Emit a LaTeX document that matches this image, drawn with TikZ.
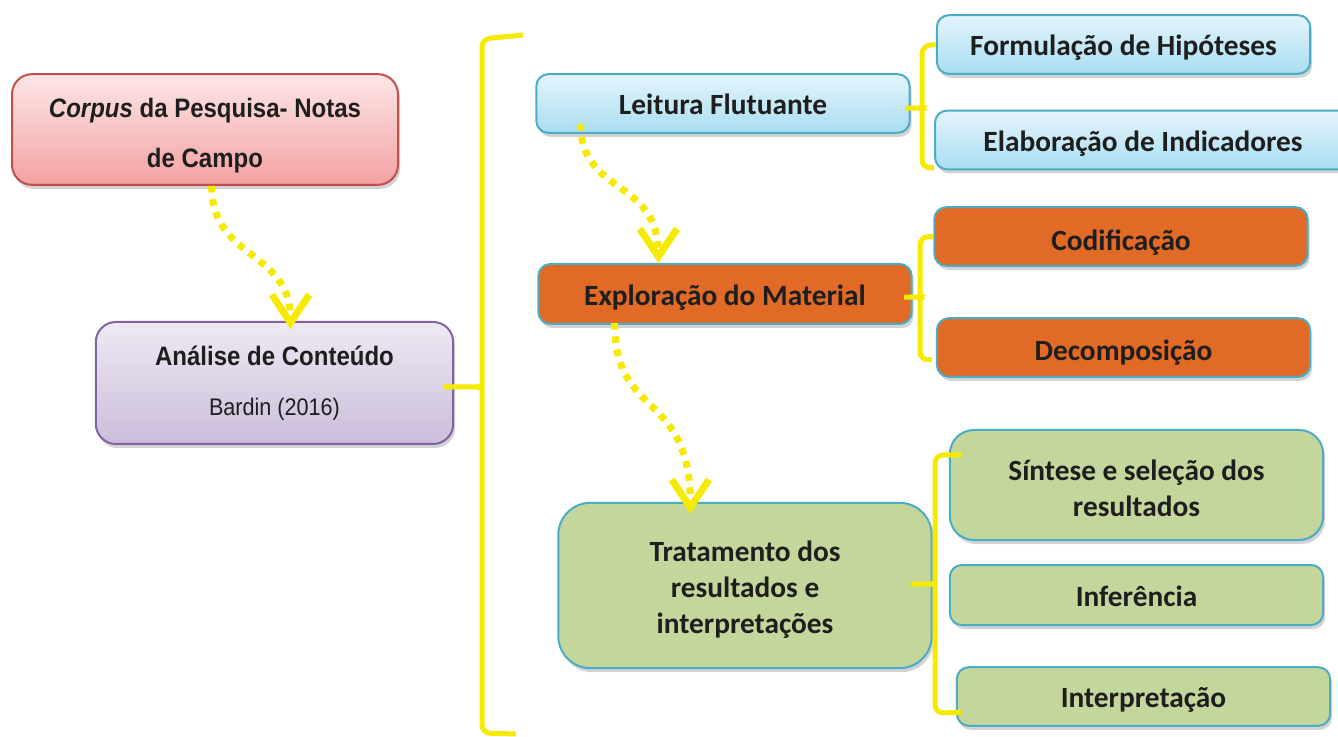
\documentclass[tikz,border=0pt]{standalone}
\usepackage{fontspec}
\setmainfont{Carlito}
\newfontfamily\arialfont[FakeStretch=0.9]{Liberation Sans}
\usetikzlibrary{arrows.meta,shadows}

\definecolor{boxline}{HTML}{4BACC6}
\definecolor{bluetop}{HTML}{E4F5FC}
\definecolor{bluebot}{HTML}{A9DDF1}
\definecolor{orangefill}{HTML}{E06A26}
\definecolor{greenfill}{HTML}{C3D69B}
\definecolor{redtop}{HTML}{FDE6E6}
\definecolor{redbot}{HTML}{F3A2A2}
\definecolor{redline}{HTML}{C0504D}
\definecolor{purpletop}{HTML}{EEE9F4}
\definecolor{purplebot}{HTML}{CBBEDA}
\definecolor{purpleline}{HTML}{8064A2}
\definecolor{braceyellow}{HTML}{F5EA00}
\definecolor{textdark}{HTML}{1E1E1E}

\tikzset{
	stagebox/.style={draw=boxline, line width=1.5pt, rounded corners=9pt,
		minimum width=280pt, minimum height=44pt, align=center, text=textdark,
		font=\fontsize{22}{27}\selectfont\bfseries,
		drop shadow={opacity=0.35, shadow xshift=1.5pt, shadow yshift=-3pt}},
	oneline/.style={text height=19.5pt, text depth=2.3pt},
	bluebox/.style={stagebox, oneline, top color=bluetop, bottom color=bluebot},
	orangebox/.style={stagebox, oneline, fill=orangefill},
	greenbox/.style={stagebox, fill=greenfill},
	brace/.style={draw=braceyellow, line width=3.75pt, rounded corners=6pt},
	flowarrow/.style={draw=braceyellow, line width=5.25pt, dash pattern=on 5pt off 5pt,
		-{Straight Barb[length=21pt,width=28pt]}},
}

\begin{document}
\begin{tikzpicture}[x=0.75pt, y=-0.75pt]
	\useasboundingbox (0,0) rectangle (1338,737);

	% Left column
	\node[stagebox, draw=redline, top color=redtop, bottom color=redbot, rounded corners=15pt,
		minimum width=289.5pt, minimum height=83pt,
		font=\arialfont\fontsize{20}{37.5}\selectfont\bfseries]
		(corpus) at (205,129.5) {\rule{0pt}{23.5pt}{\itshape Corpus} da Pesquisa- Notas\\de Campo};
	\node[stagebox, draw=purpleline, top color=purpletop, bottom color=purplebot, rounded corners=15pt,
		minimum width=268pt, minimum height=91.5pt, font=\arialfont]
		(analise) at (274.5,383) {{\fontsize{20}{24}\selectfont\bfseries Análise de Conteúdo}\\[23pt]
		{\fontsize{18}{22}\selectfont Bardin (2016)}};

	% Middle column
	\node[bluebox] (leitura) at (723,103.5) {Leitura Flutuante};
	\node[orangebox, minimum height=45pt] (explor) at (725,294) {Exploração do Material};
	\node[greenbox, rounded corners=24pt, minimum height=124pt] (trat) at (745,585.5)
		{\rule{0pt}{22pt}Tratamento dos\\resultados e\\interpretações};

	% Right column
	\node[bluebox] (formul) at (1123.5,44.5) {Formulação de Hipóteses};
	\node[bluebox, minimum width=312pt] (elab) at (1143,140) {Elaboração de Indicadores};
	\node[orangebox, text height=23pt] (codif) at (1121,236.5) {Codificação};
	\node[orangebox, text height=21.5pt] (decomp) at (1123.5,347.5) {Decomposição};
	\node[greenbox, rounded corners=18pt, minimum height=82.5pt] (sintese) at (1136.5,485)
		{\rule{0pt}{20pt}Síntese e seleção dos\\resultados};
	\node[greenbox, oneline, minimum height=45pt] (infer) at (1136.5,595) {Inferência};
	\node[greenbox, oneline] (interp) at (1143.5,696.5) {Interpretação};

	% Braces
	\coordinate (btop) at (523,35);
	\coordinate (bbot) at (516,734);
	\draw[brace] (btop) -- (482,39) -- (482,377)
		.. controls (482,385) and (479,387) .. (468,387) -- ([xshift=-12pt,yshift=-3pt]analise.east)
		-- (468,387) .. controls (479,387) and (482,389) .. (482,397) -- (482,733) -- (bbot);
	\draw[brace] (formul.west) -- (922,46) -- (922,100)
		.. controls (922,106) and (920,108) .. (914,108) -- ([xshift=-2pt,yshift=-3.5pt]leitura.east)
		-- (914,108) .. controls (920,108) and (922,110) .. (922,116) -- (922,168) -- ([yshift=2pt]elab.south west);
	\draw[brace] (codif.west) -- (920,237) -- (920,289)
		.. controls (920,295) and (918,297) .. (912,297) -- ([xshift=-6pt,yshift=-2.3pt]explor.east)
		-- (912,297) .. controls (918,297) and (920,299) .. (920,305) -- (920,360) -- ([xshift=-3pt,yshift=-9pt]decomp.west);
	\draw[brace] ([xshift=10pt,yshift=22.5pt]sintese.west) -- (935,455) -- (935,576)
		.. controls (935,582) and (932,584) .. (924,584) -- ([xshift=-20pt,yshift=1pt]trat.east)
		-- (924,584) .. controls (932,584) and (935,586) .. (935,592) -- (935,713) -- ([xshift=4pt,yshift=-12pt]interp.west);

	% Dotted arrows
	\draw[flowarrow] ([xshift=5pt]corpus.south) .. controls +(0,75) and +(0,-80) ..
		([xshift=12pt,yshift=-6pt]analise.north);
	\draw[flowarrow] ([xshift=34pt,yshift=7.5pt]leitura.south west) .. controls +(0,72) and +(0,-85) ..
		([xshift=-50pt]explor.north);
	\draw[flowarrow] ([xshift=58pt,yshift=1.5pt]explor.south west) .. controls +(0,98) and +(0,-125) ..
		([xshift=-41pt,yshift=-9pt]trat.north);
\end{tikzpicture}
\end{document}
